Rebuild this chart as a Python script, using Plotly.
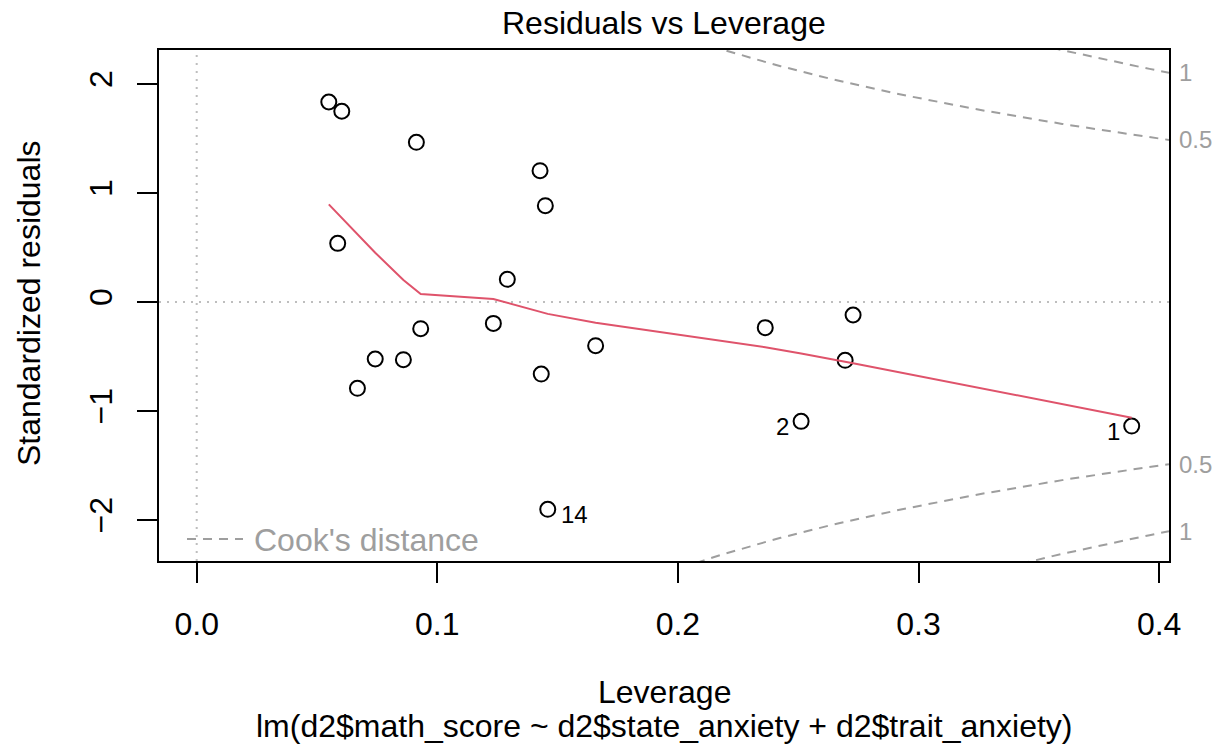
import numpy as np
import plotly.graph_objects as go

# Observations: leverage (hat values) and standardized residuals
obs_id = [3, 4, 5, 6, 7, 8, 9, 10, 11, 12, 13, 15, 16, 14, 17, 18, 2, 19, 20, 1]
leverage = [0.0549, 0.0586, 0.0603, 0.0668, 0.0742, 0.0859, 0.0913, 0.0931, 0.1233, 0.1291,
            0.1427, 0.1432, 0.1449, 0.1459, 0.1658, 0.2363, 0.2512, 0.2695, 0.2728, 0.3886]
std_resid = [1.835, 0.538, 1.750, -0.792, -0.523, -0.529, 1.465, -0.245, -0.196, 0.208,
             1.205, -0.661, 0.884, -1.902, -0.401, -0.235, -1.095, -0.535, -0.119, -1.138]

# Smoothed trend evaluated at the sorted leverages
smooth_x = leverage
smooth_y = [0.896, 0.81, 0.768, 0.615, 0.452, 0.202, 0.105, 0.073, 0.028, -0.007,
            -0.089, -0.092, -0.103, -0.109, -0.19, -0.415, -0.473, -0.548, -0.562, -1.061]

# Observations flagged with their id
flagged = [1, 2, 14]

x_ticks = [0.0, 0.1, 0.2, 0.3, 0.4]
x_ticktext = ["0.0", "0.1", "0.2", "0.3", "0.4"]
y_ticks = [-2, -1, 0, 1, 2]
y_ticktext = ["\u22122", "\u22121", "0", "1", "2"]

n_coef = 3               # intercept + two predictors
cook_levels = [0.5, 1.0]
cook_labels = ["0.5", "1"]

x_range = [-0.01567, 0.4041]
y_range = [-2.376, 2.312]

FONT = "Liberation Sans, Arial, Helvetica, sans-serif"
FS = 32
FS_SMALL = 24
GRAY_COOK = "#9E9E9E"
GRAY_REF = "#BEBEBE"
RED = "#DF536B"

# plot-area geometry (pixels) used for placing text around the panel
L, R, T, B = 159, 1169, 50, 561
W, H = 1216, 752


def px_x(px):
    return (px - L) / (R - L)


def px_y(py):
    return (B - py) / (B - T)


fig = go.Figure()

# Points
fig.add_trace(go.Scatter(
    x=leverage, y=std_resid, mode="markers",
    marker=dict(symbol="circle-open", size=15, color="black", line=dict(width=2, color="black")),
    hoverinfo="skip", showlegend=False))

# Smoothed trend
fig.add_trace(go.Scatter(
    x=smooth_x, y=smooth_y, mode="lines",
    line=dict(color=RED, width=2), hoverinfo="skip", showlegend=False))

# Cook's distance contours: r = +/- sqrt(D * p * (1 - h) / h)
hh = np.linspace(min(leverage[0], leverage[1] / 100), x_range[1], 101)
for d in cook_levels:
    cl = np.sqrt(d * n_coef * (1 - hh) / hh)
    for sgn in (1, -1):
        fig.add_trace(go.Scatter(
            x=hh, y=sgn * cl, mode="lines",
            line=dict(color=GRAY_COOK, width=2, dash="9px,7px"),
            hoverinfo="skip", showlegend=False))

annotations = []

# Contour labels on the right edge
h_edge = x_range[1]
for d, lab in zip(cook_levels, cook_labels):
    r_edge = float(np.sqrt(d * n_coef * (1 - h_edge) / h_edge))
    for sgn in (1, -1):
        annotations.append(dict(
            x=1.0, xref="paper", y=sgn * r_edge, yref="y", text=lab,
            showarrow=False, xanchor="left", yanchor="middle", xshift=8,
            font=dict(family=FONT, size=FS_SMALL, color=GRAY_COOK)))

# Id labels of flagged observations
for i, lab in enumerate(obs_id):
    if lab in flagged:
        right_side = lab == 14
        annotations.append(dict(
            x=leverage[i], y=std_resid[i], xref="x", yref="y", text=str(lab),
            showarrow=False, xanchor="left" if right_side else "right",
            yanchor="middle", xshift=11 if right_side else -10, yshift=-5,
            font=dict(family=FONT, size=FS_SMALL, color="black")))

# Legend text
annotations.append(dict(
    x=px_x(252), y=px_y(540), xref="paper", yref="paper", text="Cook's distance",
    showarrow=False, xanchor="left", yanchor="middle",
    font=dict(family=FONT, size=FS, color=GRAY_COOK)))

# Title and axis captions
annotations.append(dict(
    x=0.5, y=px_y(23), xref="paper", yref="paper", text="Residuals vs Leverage",
    showarrow=False, xanchor="center", yanchor="middle",
    font=dict(family=FONT, size=FS, color="black")))
annotations.append(dict(
    x=0.5, y=px_y(692), xref="paper", yref="paper", text="Leverage",
    showarrow=False, xanchor="center", yanchor="middle",
    font=dict(family=FONT, size=FS, color="black")))
annotations.append(dict(
    x=0.5, y=px_y(726), xref="paper", yref="paper",
    text="lm(d2$math_score ~ d2$state_anxiety + d2$trait_anxiety)",
    showarrow=False, xanchor="center", yanchor="middle",
    font=dict(family=FONT, size=FS, color="black")))
annotations.append(dict(
    x=px_x(29), y=px_y(303), xref="paper", yref="paper", text="Standardized residuals",
    showarrow=False, xanchor="center", yanchor="middle", textangle=-90,
    font=dict(family=FONT, size=FS, color="black")))

shapes = [
    # reference lines at zero
    dict(type="line", xref="x", yref="paper", x0=0, x1=0, y0=0, y1=1,
         line=dict(color=GRAY_REF, width=2, dash="2px,6px"), layer="below"),
    dict(type="line", xref="paper", yref="y", x0=0, x1=1, y0=0, y1=0,
         line=dict(color=GRAY_REF, width=2, dash="2px,6px"), layer="below"),
    # legend key
    dict(type="line", xref="paper", yref="paper", x0=px_x(187), x1=px_x(243),
         y0=px_y(539), y1=px_y(539),
         line=dict(color=GRAY_COOK, width=2, dash="9px,7px")),
]

axis_common = dict(
    showgrid=False, zeroline=False, showline=True, mirror=True,
    linecolor="black", linewidth=2, ticks="outside", ticklen=20, tickwidth=2,
    tickcolor="black", tickfont=dict(family=FONT, size=FS, color="black"),
)

fig.update_layout(
    width=W, height=H,
    margin=dict(l=L, r=W - R, t=T, b=H - B),
    paper_bgcolor="white", plot_bgcolor="white",
    xaxis=dict(range=x_range, tickvals=x_ticks, ticktext=x_ticktext,
               ticklabelstandoff=14, **axis_common),
    yaxis=dict(range=y_range, tickvals=y_ticks, ticktext=y_ticktext, tickangle=-90,
               ticklabelstandoff=12, **axis_common),
    annotations=annotations, shapes=shapes, showlegend=False,
)

fig.write_html("out.html", config={"displayModeBar": False})
